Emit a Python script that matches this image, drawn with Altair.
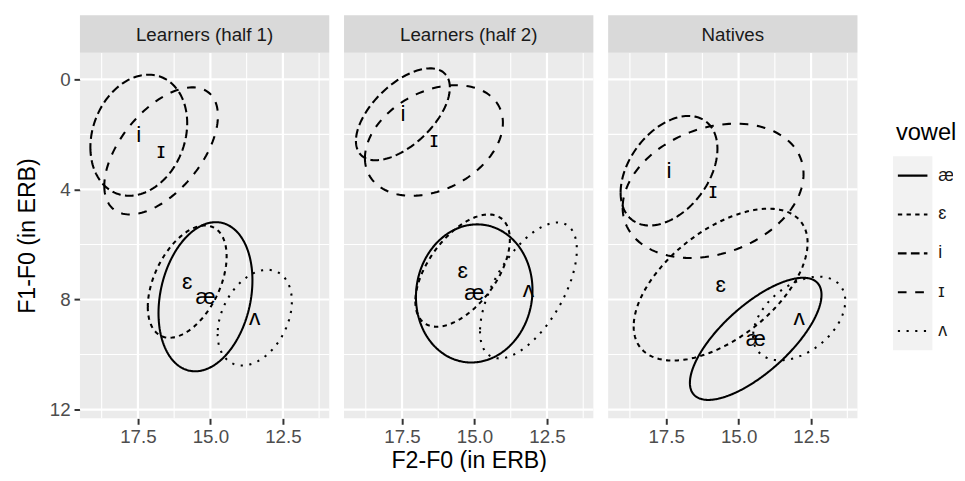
import altair as alt
import numpy as np
import pandas as pd

# ---- data -------------------------------------------------------------
facets = ["Learners (half 1)", "Learners (half 2)", "Natives"]
vowels = ["æ", "ɛ", "i", "ɪ", "ʌ"]

# ellipse centre (= label position), half-extents and x/y correlation per vowel
half1_cx = [15.17, 15.80, 17.47, 16.70, 13.47]
half1_cy = [7.90, 7.35, 2.03, 2.60, 8.66]
half1_rx = [1.62, 1.36, 1.67, 1.96, 1.28]
half1_ry = [2.71, 2.04, 2.20, 2.31, 1.74]
half1_rho = [0.22, 0.45, 0.20, 0.55, 0.34]

half2_cx = [15.01, 15.41, 17.47, 16.40, 13.14]
half2_cy = [7.78, 6.95, 1.27, 2.22, 7.67]
half2_rx = [2.01, 1.63, 1.62, 2.38, 1.67]
half2_ry = [2.51, 2.04, 1.67, 2.01, 2.47]
half2_rho = [0.05, 0.55, 0.58, 0.32, 0.60]

nat_cx = [14.41, 15.62, 17.40, 15.88, 12.91]
nat_cy = [9.43, 7.46, 3.32, 4.05, 8.69]
nat_rx = [2.27, 3.00, 1.67, 3.12, 1.59]
nat_ry = [2.22, 2.76, 1.99, 2.44, 1.52]
nat_rho = [0.72, 0.55, 0.40, 0.25, 0.42]

x_major = [12.5, 15.0, 17.5]
x_minor = [11.25, 13.75, 16.25, 18.75]
y_major = [0, 4, 8, 12]
y_minor = [2, 6, 10]

# ---- build tables -------------------------------------------------------
params = {
    facets[0]: (half1_cx, half1_cy, half1_rx, half1_ry, half1_rho),
    facets[1]: (half2_cx, half2_cy, half2_rx, half2_ry, half2_rho),
    facets[2]: (nat_cx, nat_cy, nat_rx, nat_ry, nat_rho),
}
tgrid = np.linspace(0, 2 * np.pi, 145)
rows, labels = [], []
for f, (cxs, cys, rxs, rys, rhos) in params.items():
    for v, cx, cy, rx, ry, rho in zip(vowels, cxs, cys, rxs, rys, rhos):
        labels.append({"facet": f, "vowel": v, "x": cx, "y": cy})
        for k, t in enumerate(tgrid):
            rows.append({
                "facet": f, "vowel": v, "k": k,
                "x": cx + rx * np.cos(t),
                "y": cy + ry * (rho * np.cos(t) + np.sqrt(1 - rho ** 2) * np.sin(t)),
            })
ell = pd.DataFrame(rows)
lab = pd.DataFrame(labels)
vgrid_major = pd.DataFrame({"x": x_major})
vgrid_minor = pd.DataFrame({"x": x_minor})
hgrid_major = pd.DataFrame({"y": y_major})
hgrid_minor = pd.DataFrame({"y": y_minor})

# ---- styling -------------------------------------------------------------
W, H = 253, 371
STRIP = 38
FONT = "Liberation Sans, DejaVu Sans"
dash_scale = alt.Scale(domain=vowels,
                       range=[[1, 0], [4.4, 4.4], [8.8, 4.4], [8.8, 8.8], [2.2, 6.6]])
xscale = alt.Scale(domain=[10.9, 19.5], reverse=True, nice=False, zero=False)
yscale = alt.Scale(domain=[-0.967, 12.32], reverse=True, nice=False, zero=False)


def panel(fname, show_y, show_xtitle):
    xaxis = alt.Axis(values=x_major, format=".1f", grid=False, domain=False,
                     tickColor="#333333", tickWidth=2, tickSize=6,
                     labelColor="#4D4D4D", labelFontSize=19, labelPadding=3,
                     labelFont=FONT, titleFont=FONT,
                     title="F2-F0 (in ERB)" if show_xtitle else None,
                     titleFontSize=23.5, titleFontWeight="normal",
                     titleColor="#000000", titlePadding=3)
    if show_y:
        yaxis = alt.Axis(values=y_major, grid=False, domain=False,
                         tickColor="#333333", tickWidth=2, tickSize=6,
                         labelColor="#4D4D4D", labelFontSize=19, labelPadding=4,
                         labelFont=FONT, titleFont=FONT,
                         title="F1-F0 (in ERB)", titleFontSize=23.5,
                         titleFontWeight="normal", titleColor="#000000",
                         titlePadding=10)
    else:
        yaxis = None

    def X():
        return alt.X("x:Q", scale=xscale, axis=xaxis)

    def Y():
        return alt.Y("y:Q", scale=yscale, axis=yaxis)

    gminor_v = alt.Chart(vgrid_minor).mark_rule(color="white", strokeWidth=1.1).encode(x=X())
    gmajor_v = alt.Chart(vgrid_major).mark_rule(color="white", strokeWidth=2.2).encode(x=X())
    gminor_h = alt.Chart(hgrid_minor).mark_rule(color="white", strokeWidth=1.1).encode(y=Y())
    gmajor_h = alt.Chart(hgrid_major).mark_rule(color="white", strokeWidth=2.2).encode(y=Y())

    lines = alt.Chart(ell[ell.facet == fname]).mark_line(
        color="black", strokeWidth=2.1, strokeCap="butt").encode(
        x=X(), y=Y(),
        strokeDash=alt.StrokeDash("vowel:N", scale=dash_scale, legend=None),
        detail="vowel:N",
        order="k:Q",
    )
    texts = alt.Chart(lab[lab.facet == fname]).mark_text(
        fontSize=23, font=FONT, color="black", baseline="middle", align="center").encode(
        x=X(), y=Y(), text="vowel:N",
    )
    sdf = pd.DataFrame({"facet": [fname]})
    strip = alt.Chart(sdf).mark_rect(fill="#D9D9D9").encode(
        x=alt.value(0), x2=alt.value(W), y=alt.value(-STRIP), y2=alt.value(0))
    stext = alt.Chart(sdf).mark_text(fontSize=19, font=FONT, color="#1A1A1A",
                                     baseline="middle", align="center").encode(
        x=alt.value(W / 2), y=alt.value(-STRIP / 2 + 1), text="facet:N")
    return alt.layer(gminor_v, gmajor_v, gminor_h, gmajor_h, lines, texts, strip, stext).properties(
        width=W, height=H, view=alt.ViewBackground(fill="#EBEBEB", strokeWidth=0))


p1 = panel(facets[0], True, False)
p2 = panel(facets[1], False, True)
p3 = panel(facets[2], False, False)

# ---- legend drawn by hand (keys on a grey column) -----------------------
LW = 61
ldf = pd.DataFrame({"vowel": vowels})
one = pd.DataFrame({"t": ["vowel"]})
lscale = alt.Scale(type="point", domain=vowels, range=[124.7, 282.4], padding=0)
top_pad = alt.Chart(one).mark_rect(fill="white").encode(
    x=alt.value(0), x2=alt.value(40), y=alt.value(-STRIP), y2=alt.value(-STRIP + 1))
kbg = alt.Chart(one).mark_rect(fill="#F2F2F2").encode(
    x=alt.value(0), x2=alt.value(40), y=alt.value(105), y2=alt.value(302))
ktitle = alt.Chart(one).mark_text(fontSize=24, font=FONT, color="#000000",
                                  align="left", baseline="middle").encode(
    x=alt.value(3), y=alt.value(82), text="t:N")
krule = alt.Chart(ldf).mark_rule(color="black", strokeWidth=2.1, strokeCap="butt").encode(
    x=alt.value(5), x2=alt.value(35),
    y=alt.Y("vowel:N", scale=lscale, axis=None),
    strokeDash=alt.StrokeDash("vowel:N", scale=dash_scale, legend=None))
klab = alt.Chart(ldf).mark_text(fontSize=18, font=FONT, color="#1A1A1A",
                                align="left", baseline="middle", clip=True).encode(
    x=alt.value(46), y=alt.Y("vowel:N", scale=lscale, axis=None), text="vowel:N")
legend = alt.layer(top_pad, kbg, ktitle, krule, klab).properties(
    width=LW, height=H, view=alt.ViewBackground(strokeWidth=0))

chart = alt.hconcat(alt.hconcat(p1, p2, p3, spacing=11), legend, spacing=34).properties(
    padding={"left": 7, "top": 4, "right": 0, "bottom": -4}
).configure(font=FONT).configure_view(stroke="transparent")

chart.save("out.html", embed_options={"renderer": "svg", "actions": False})
